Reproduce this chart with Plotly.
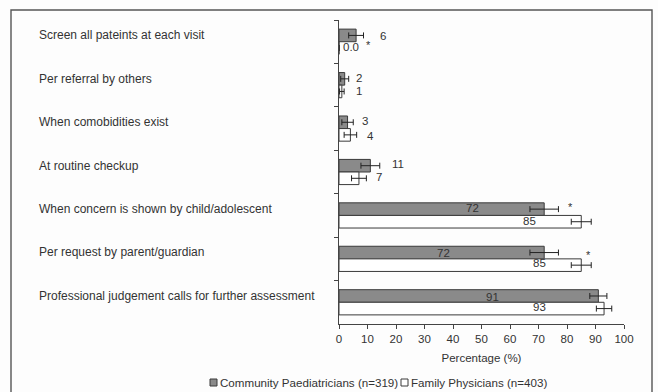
import plotly.graph_objects as go

# Reasons for screening, top to bottom
categories = [
    "Screen all pateints at each visit",
    "Per referral by others",
    "When comobidities exist",
    "At routine checkup",
    "When concern is shown by child/adolescent",
    "Per request by parent/guardian",
    "Professional judgement calls for further assessment",
]

# Percentages and error margins per group
paed_values = [6, 2, 3, 11, 72, 72, 91]
paed_errors = [2.6, 1.4, 2.0, 3.3, 5.0, 5.0, 3.0]
fam_values = [0.0, 1, 4, 7, 85, 85, 93]
fam_errors = [0.0, 0.8, 2.2, 2.6, 3.5, 3.5, 2.7]

paed_labels = ["6", "2", "3", "11", "72", "72", "91"]
fam_labels = ["0.0", "1", "4", "7", "85", "85", "93"]

x_ticks = list(range(0, 101, 10))

# ---- layout helpers -------------------------------------------------------
W, H = 658, 392
PL, PR, PT, PB = 339, 624, 20, 324  # plot area in pixels


def px_x(px):
    return (px - PL) / (PR - PL)


def px_y(py):
    return (PB - py) / (PB - PT)


TEXT = "#333333"
FONT = "Liberation Sans, Arial, sans-serif"

fig = go.Figure()
fig.add_trace(go.Bar(
    y=categories, x=paed_values, orientation="h",
    name="Community Paediatricians (n=319)",
    marker=dict(color="#8a8a8a", line=dict(color="#3a3a3a", width=1)),
    error_x=dict(type="data", array=paed_errors, color="#222222",
                 thickness=1, width=3),
    showlegend=False,
))
fig.add_trace(go.Bar(
    y=categories, x=fam_values, orientation="h",
    name="Family Physicians (n=403)",
    marker=dict(color="#ffffff", line=dict(color="#3a3a3a", width=1)),
    error_x=dict(type="data", array=fam_errors, color="#222222",
                 thickness=1, width=3),
    showlegend=False,
))

annotations = []

# category labels, left aligned in the frame
for cat in categories:
    annotations.append(dict(
        x=px_x(37), xref="paper", y=cat, yref="y", yshift=6.5,
        text=cat, showarrow=False, xanchor="left", yanchor="middle",
        font=dict(size=12, color=TEXT, family=FONT),
    ))

# value label placement (data x, pixel shift up)
paed_label_x = [15.4, 7.0, 9.1, 20.7, 46.7, 36.5, 54.0]
paed_label_dy = [6, 7.5, 7.5, 8, 7, 6, 5]
fam_label_x = [4.2, 7.0, 11.2, 14.0, 66.7, 70.5, 70.2]
fam_label_dy = [-5.5, -5.5, -7.5, -5, -6, -4, -5]

for cat, txt, lx, dy in zip(categories, paed_labels, paed_label_x, paed_label_dy):
    annotations.append(dict(
        x=lx, xref="x", y=cat, yref="y", yshift=dy, text=txt,
        showarrow=False, xanchor="center", yanchor="middle",
        font=dict(size=11.5, color=TEXT, family=FONT),
    ))
for cat, txt, lx, dy in zip(categories, fam_labels, fam_label_x, fam_label_dy):
    annotations.append(dict(
        x=lx, xref="x", y=cat, yref="y", yshift=dy, text=txt,
        showarrow=False, xanchor="center", yanchor="middle",
        font=dict(size=11.5, color=TEXT, family=FONT),
    ))

# significance markers
for cat, sx, dy in [(categories[0], 10.5, -3), (categories[4], 81.4, 8), (categories[5], 87.4, 4)]:
    annotations.append(dict(
        x=sx, xref="x", y=cat, yref="y", yshift=dy, text="*",
        showarrow=False, xanchor="center", yanchor="middle",
        font=dict(size=11, color=TEXT, family=FONT),
    ))

# legend
annotations.append(dict(
    x=px_x(218), xref="paper", y=px_y(382), yref="paper",
    text="Community Paediatricians (n=319)", showarrow=False,
    xanchor="left", yanchor="middle",
    font=dict(size=11.6, color=TEXT, family=FONT),
))
annotations.append(dict(
    x=px_x(409), xref="paper", y=px_y(382), yref="paper",
    text="Family Physicians (n=403)", showarrow=False,
    xanchor="left", yanchor="middle",
    font=dict(size=11.6, color=TEXT, family=FONT),
))

shapes = [
    # outer frame
    dict(type="rect", xref="paper", yref="paper",
         x0=px_x(11), x1=px_x(652), y0=px_y(400), y1=px_y(10),
         line=dict(color="#555555", width=1.4), fillcolor="rgba(0,0,0,0)"),
    # legend swatches
    dict(type="rect", xref="paper", yref="paper",
         x0=px_x(210), x1=px_x(217), y0=px_y(386), y1=px_y(379),
         line=dict(color="#3a3a3a", width=1), fillcolor="#8a8a8a"),
    dict(type="rect", xref="paper", yref="paper",
         x0=px_x(401), x1=px_x(408), y0=px_y(386), y1=px_y(379),
         line=dict(color="#3a3a3a", width=1), fillcolor="#ffffff"),
]

fig.update_layout(
    width=W, height=H,
    margin=dict(l=PL, r=W - PR, t=PT, b=H - PB, pad=0),
    paper_bgcolor="#fdfdfd", plot_bgcolor="#fdfdfd",
    barmode="group", bargap=0.42, bargroupgap=0,
    font=dict(family=FONT, size=11, color=TEXT),
    annotations=annotations, shapes=shapes,
    xaxis=dict(
        range=[0, 100], tickvals=x_ticks, ticktext=[str(v) for v in x_ticks],
        showline=True, linecolor="#444444", linewidth=1,
        ticks="outside", ticklen=4, tickcolor="#444444",
        showgrid=False, zeroline=False,
        tickfont=dict(size=11.5, color=TEXT),
        title=dict(text="Percentage (%)", font=dict(size=11.5, color=TEXT), standoff=10),
    ),
    yaxis=dict(
        autorange="reversed", showticklabels=False,
        showline=True, linecolor="#444444", linewidth=1,
        ticks="outside", ticklen=4, tickcolor="#444444", tickson="boundaries",
        showgrid=False, zeroline=False,
    ),
)

fig.write_html("out.html")
